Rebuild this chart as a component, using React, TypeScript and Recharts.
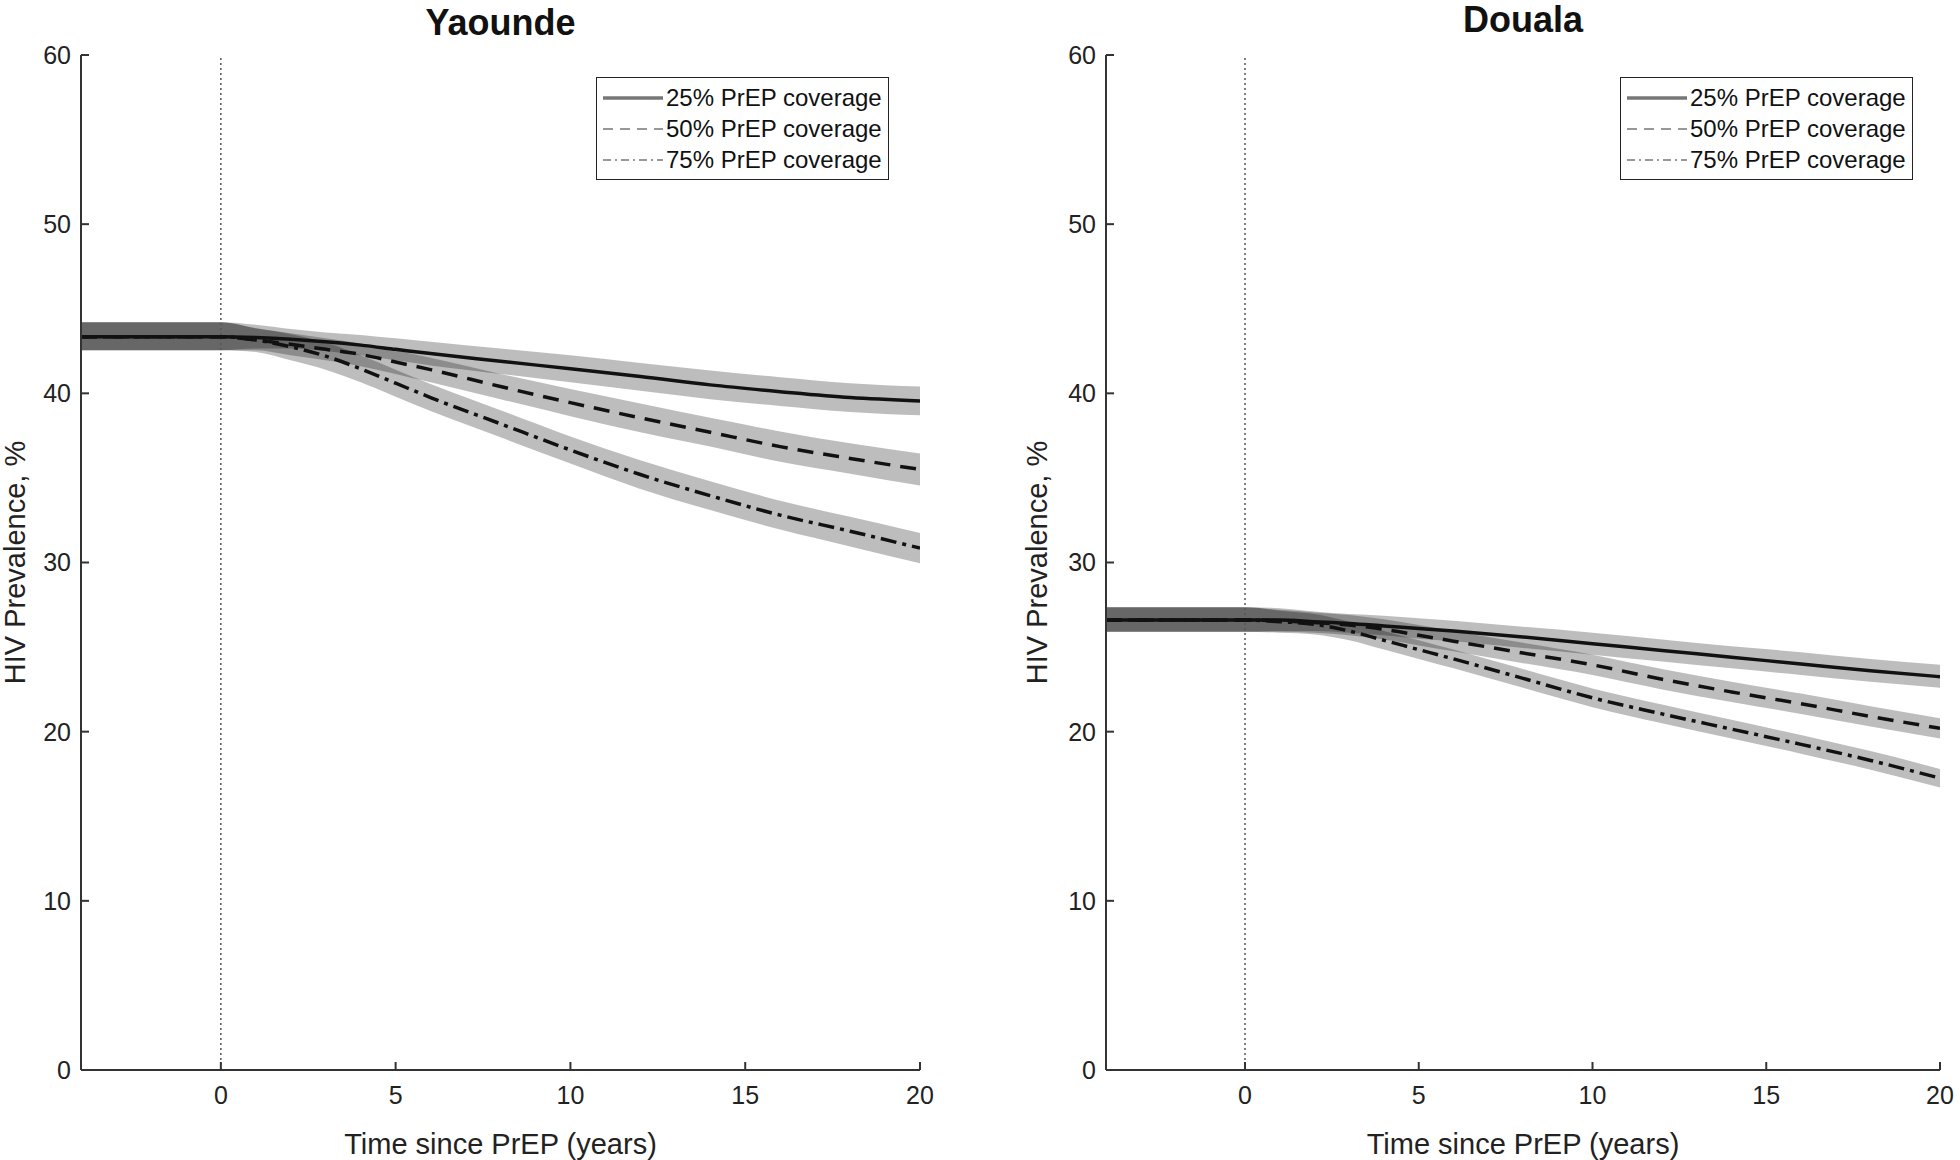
import React from 'react';
import { ComposedChart, Area, Line, XAxis, YAxis, ReferenceLine, Legend } from 'recharts';

// time since PrEP start (years)
const X_YEARS = [-4, 0, 1, 2, 3, 4, 5, 6, 8, 10, 12, 14, 16, 18, 20];

// Yaounde, HIV prevalence %
const YAO_25_MEAN = [43.35, 43.35, 43.3, 43.2, 43.05, 42.85, 42.6, 42.35, 41.9, 41.45, 41.0, 40.5, 40.1, 39.75, 39.55];
const YAO_25_LO = [42.55, 42.55, 42.65, 42.65, 42.5, 42.25, 41.95, 41.65, 41.15, 40.65, 40.15, 39.65, 39.25, 38.9, 38.7];
const YAO_25_HI = [44.2, 44.2, 44.05, 43.8, 43.6, 43.45, 43.25, 43.05, 42.65, 42.25, 41.8, 41.35, 40.95, 40.6, 40.4];
const YAO_50_MEAN = [43.35, 43.35, 43.15, 42.9, 42.6, 42.3, 41.85, 41.4, 40.4, 39.45, 38.55, 37.7, 36.85, 36.15, 35.5];
const YAO_50_LO = [42.55, 42.55, 42.55, 42.25, 41.95, 41.6, 41.15, 40.65, 39.65, 38.65, 37.7, 36.85, 35.95, 35.25, 34.55];
const YAO_50_HI = [44.2, 44.2, 43.85, 43.55, 43.25, 42.95, 42.55, 42.1, 41.15, 40.25, 39.4, 38.55, 37.75, 37.05, 36.45];
const YAO_75_MEAN = [43.35, 43.35, 43.15, 42.75, 42.2, 41.45, 40.6, 39.75, 38.2, 36.65, 35.2, 33.95, 32.8, 31.85, 30.85];
const YAO_75_LO = [42.55, 42.55, 42.45, 41.95, 41.4, 40.65, 39.8, 38.95, 37.4, 35.85, 34.35, 33.1, 31.95, 30.95, 29.95];
const YAO_75_HI = [44.2, 44.2, 43.85, 43.5, 43.0, 42.25, 41.4, 40.55, 39.0, 37.45, 36.05, 34.8, 33.65, 32.7, 31.75];

// Douala, HIV prevalence %
const DLA_25_MEAN = [26.6, 26.6, 26.6, 26.5, 26.4, 26.25, 26.1, 25.95, 25.6, 25.2, 24.8, 24.4, 24.0, 23.6, 23.25];
const DLA_25_LO = [25.9, 25.9, 25.95, 25.95, 25.85, 25.7, 25.5, 25.35, 24.95, 24.55, 24.15, 23.75, 23.35, 22.95, 22.6];
const DLA_25_HI = [27.35, 27.35, 27.3, 27.1, 26.95, 26.85, 26.7, 26.55, 26.2, 25.85, 25.45, 25.05, 24.7, 24.3, 23.95];
const DLA_50_MEAN = [26.6, 26.6, 26.55, 26.45, 26.3, 26.05, 25.7, 25.35, 24.65, 23.95, 23.1, 22.35, 21.65, 20.9, 20.2];
const DLA_50_LO = [25.9, 25.9, 25.9, 25.85, 25.7, 25.45, 25.1, 24.75, 24.05, 23.35, 22.5, 21.75, 21.05, 20.3, 19.6];
const DLA_50_HI = [27.35, 27.35, 27.2, 27.05, 26.9, 26.65, 26.3, 25.95, 25.25, 24.55, 23.7, 22.95, 22.25, 21.5, 20.8];
const DLA_75_MEAN = [26.6, 26.6, 26.5, 26.35, 25.95, 25.4, 24.85, 24.3, 23.15, 22.0, 21.05, 20.15, 19.25, 18.3, 17.25];
const DLA_75_LO = [25.9, 25.9, 25.85, 25.75, 25.4, 24.85, 24.3, 23.75, 22.6, 21.45, 20.5, 19.6, 18.7, 17.75, 16.7];
const DLA_75_HI = [27.35, 27.35, 27.15, 26.95, 26.5, 25.95, 25.4, 24.85, 23.7, 22.55, 21.6, 20.7, 19.8, 18.85, 17.8];

const X_TICKS = [0, 5, 10, 15, 20];
const Y_TICKS = [0, 10, 20, 30, 40, 50, 60];
const LEGEND_LABELS = ['25% PrEP coverage', '50% PrEP coverage', '75% PrEP coverage'];

const FONT = '"Liberation Sans", Arial, sans-serif';

const buildRows = (m25, l25, h25, m50, l50, h50, m75, l75, h75) =>
  X_YEARS.map((x, i) => ({
    x,
    m25: m25[i], b25: [l25[i], h25[i]],
    m50: m50[i], b50: [l50[i], h50[i]],
    m75: m75[i], b75: [l75[i], h75[i]],
  }));

const yaoRows = buildRows(YAO_25_MEAN, YAO_25_LO, YAO_25_HI, YAO_50_MEAN, YAO_50_LO, YAO_50_HI, YAO_75_MEAN, YAO_75_LO, YAO_75_HI);
const dlaRows = buildRows(DLA_25_MEAN, DLA_25_LO, DLA_25_HI, DLA_50_MEAN, DLA_50_LO, DLA_50_HI, DLA_75_MEAN, DLA_75_LO, DLA_75_HI);

const DASHES = [undefined, '16 10', '16 6 4 6'];
const LEGEND_DASHES = [undefined, '10 7', '8 4 2 4'];

const renderLegend = () => (
  <div style={{ border: '1.5px solid #222', background: '#fff', padding: '4px 6px 4px 6px', fontFamily: FONT, fontSize: 24, color: '#111' }}>
    {LEGEND_LABELS.map((label, i) => (
      <div key={label} style={{ display: 'flex', alignItems: 'center', height: 31 }}>
        <svg width={60} height={10} style={{ marginRight: 3 }}>
          <line x1={0} y1={5} x2={60} y2={5} stroke="#777" strokeWidth={i === 0 ? 3.5 : 1.5} strokeDasharray={LEGEND_DASHES[i]} />
        </svg>
        <span>{label}</span>
      </div>
    ))}
  </div>
);

const Panel = ({ title, rows, left, width, yAxisWidth, yLabelX, legendLeft, titleTop }) => {
  const plotLeft = yAxisWidth;
  const plotRight = width - 20;
  return (
    <div style={{ position: 'absolute', left, top: 0, width, height: 1160 }}>
      <div style={{ position: 'absolute', left: 0, width: (plotLeft + plotRight), top: titleTop, textAlign: 'center', fontFamily: FONT, fontWeight: 'bold', fontSize: 36, color: '#111', lineHeight: '40px' }}>
        {title}
      </div>
      <ComposedChart width={width} height={1160} data={rows} margin={{ top: 55, right: 20, bottom: 0, left: 0 }}>
        <XAxis
          type="number"
          dataKey="x"
          domain={[-4, 20]}
          ticks={X_TICKS}
          allowDataOverflow
          height={90}
          stroke="#333"
          strokeWidth={2}
          tickSize={-8}
          tickMargin={24}
          tick={{ fill: '#222', fontSize: 25, fontFamily: FONT }}
          label={{ value: 'Time since PrEP (years)', position: 'insideBottom', offset: 6, fill: '#222', fontSize: 29, fontFamily: FONT }}
        />
        <YAxis
          domain={[0, 60]}
          ticks={Y_TICKS}
          width={yAxisWidth}
          stroke="#333"
          strokeWidth={2}
          tickSize={-8}
          tickMargin={18}
          tick={{ fill: '#222', fontSize: 25, fontFamily: FONT }}
          label={(props) => {
            const vb = props.viewBox || { y: 55, height: 1015 };
            const cy = vb.y + vb.height / 2;
            return (
              <text x={yLabelX} y={cy} transform={`rotate(-90, ${yLabelX}, ${cy})`} textAnchor="middle" dominantBaseline="central" fill="#222" fontSize={29} fontFamily={FONT}>
                HIV Prevalence, %
              </text>
            );
          }}
        />
        <Area type="monotone" dataKey="b25" stroke="none" fill="#000" fillOpacity={0.26} isAnimationActive={false} />
        <Area type="monotone" dataKey="b50" stroke="none" fill="#000" fillOpacity={0.26} isAnimationActive={false} />
        <Area type="monotone" dataKey="b75" stroke="none" fill="#000" fillOpacity={0.26} isAnimationActive={false} />
        <ReferenceLine x={0} stroke="#555" strokeWidth={1.5} strokeDasharray="2 3" />
        <Line type="monotone" dataKey="m25" stroke="#111" strokeWidth={3.5} dot={false} strokeDasharray={DASHES[0]} isAnimationActive={false} />
        <Line type="monotone" dataKey="m50" stroke="#111" strokeWidth={3.5} dot={false} strokeDasharray={DASHES[1]} isAnimationActive={false} />
        <Line type="monotone" dataKey="m75" stroke="#111" strokeWidth={3.5} dot={false} strokeDasharray={DASHES[2]} isAnimationActive={false} />
        <Legend
          layout="horizontal"
          verticalAlign="middle"
          align="center"
          content={renderLegend}
          wrapperStyle={{ left: legendLeft, top: 77, width: 'auto', height: 'auto' }}
        />
      </ComposedChart>
    </div>
  );
};

const App = () => {
  return (
    <div style={{ position: 'absolute', left: 0, top: 0, width: 1960, height: 1160, background: '#fff' }}>
      <Panel title="Yaounde" rows={yaoRows} left={0} width={940} yAxisWidth={81} yLabelX={15} legendLeft={596} titleTop={3} />
      <Panel title="Douala" rows={dlaRows} left={980} width={980} yAxisWidth={126} yLabelX={57} legendLeft={640} titleTop={0} />
    </div>
  );
};

export default App;
